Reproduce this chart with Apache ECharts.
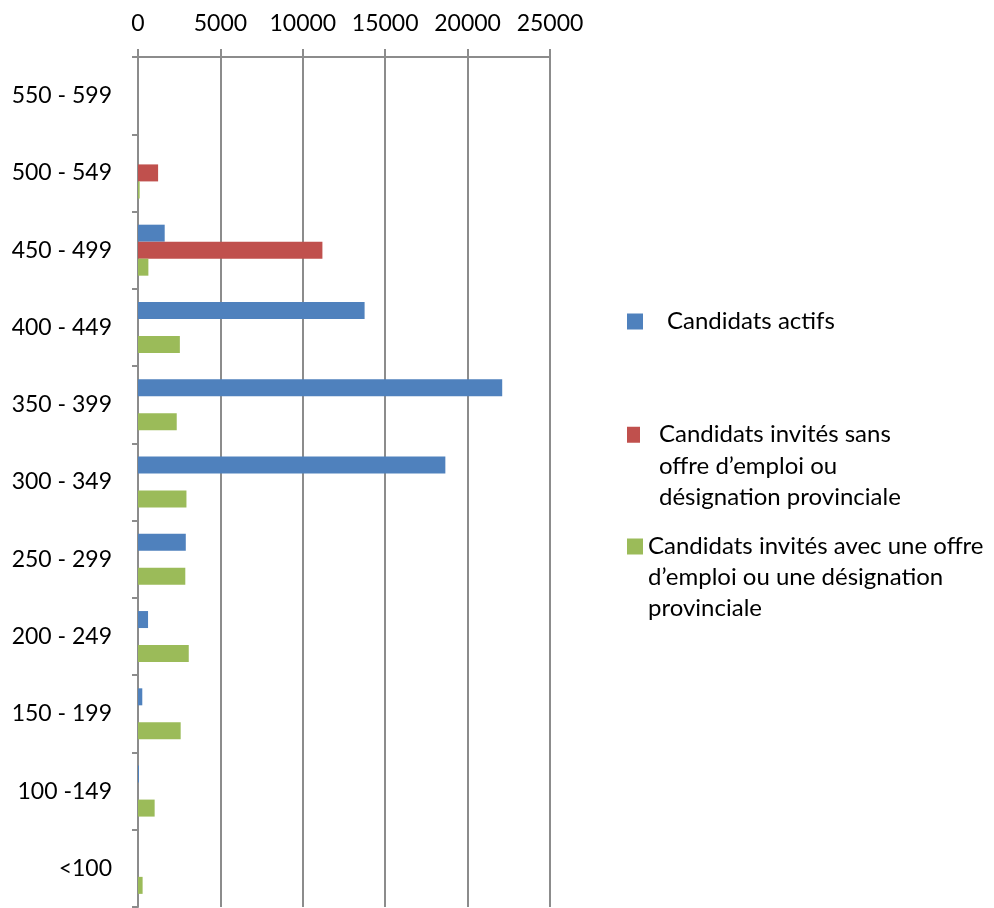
<!DOCTYPE html>
<html>
	<head>
		<meta charset="utf-8">
		<title>Candidats par tranche de score</title>
		<script src="https://cdn.jsdelivr.net/npm/echarts@6/dist/echarts.min.js" type="text/javascript"></script>
		<style type="text/css">
			html,body{margin: 0; padding: 0; background-color: #fff;}
			#main{width: 994px; height: 908px;}
		</style>
	</head>
	<body>
		<div id="main"></div>
		<script type="text/javascript">
			// tranches de score, du bas vers le haut
			var categories = ['<100', '100 -149', '150 - 199', '200 - 249', '250 - 299', '300 - 349', '350 - 399', '400 - 449', '450 - 499', '500 - 549', '550 - 599'];
			var actifs = [0, 60, 260, 610, 2900, 18650, 22100, 13750, 1620, 0, 0];
			var sansOffre = [0, 0, 0, 0, 0, 0, 0, 0, 11190, 1220, 0];
			var avecOffre = [280, 1010, 2590, 3080, 2870, 2940, 2350, 2540, 630, 100, 0];
			var xTicks = [0, 5000, 10000, 15000, 20000, 25000];

			var names = [
				'Candidats actifs',
				'Candidats invités sans\noffre d\u2019emploi ou\ndésignation provinciale',
				'Candidats invités avec une offre\nd\u2019emploi ou une désignation\nprovinciale'
			];
			var colors = ['#4f81bd', '#c0504d', '#9bbb59'];

			var myChart = echarts.init(document.getElementById('main'), null, {renderer: 'canvas'});

			var font = 'Lato, "Open Sans", sans-serif';

			// la légende centre le texte sur l'icône : deux lignes vides devant
			// pour que l'icône soit en face de la première ligne
			function topAligned(name) {
				return name.indexOf('\n') >= 0 ? '\n\n' + name : name;
			}

			var option = {
				animation: false,
				textStyle: {fontFamily: font},
				grid: {left: 138, right: 444, top: 57, bottom: 1, containLabel: false},
				legend: [
					{
						data: [names[0]], orient: 'vertical', left: 622, top: 301,
						icon: 'rect', itemWidth: 16, itemHeight: 16,
						formatter: topAligned,
						textStyle: {fontSize: 24, lineHeight: 31, color: '#000', fontFamily: font, padding: [0, 0, 0, 19]}
					},
					{
						data: [names[1]], orient: 'vertical', left: 622, top: 351,
						icon: 'rect', itemWidth: 13, itemHeight: 16,
						formatter: topAligned,
						textStyle: {fontSize: 24, lineHeight: 31.5, color: '#000', fontFamily: font, padding: [0, 0, 0, 14]}
					},
					{
						data: [names[2]], orient: 'vertical', left: 622, top: 464,
						icon: 'rect', itemWidth: 16, itemHeight: 16,
						formatter: topAligned,
						textStyle: {fontSize: 24, lineHeight: 31, color: '#000', fontFamily: font}
					}
				],
				xAxis: {
					type: 'value',
					position: 'top',
					min: 0,
					max: 25000,
					interval: 5000,
					axisLine: {show: true, lineStyle: {color: '#8c8c8c', width: 2}},
					axisTick: {show: true, length: 8, lineStyle: {color: '#8c8c8c', width: 2}},
					splitLine: {show: true, lineStyle: {color: '#8c8c8c', width: 2}},
					axisLabel: {
						fontSize: 23, color: '#000', fontFamily: font, margin: 22,
						formatter: function (v) { return xTicks.indexOf(v) >= 0 ? String(v) : ''; }
					}
				},
				yAxis: {
					type: 'category',
					data: categories,
					axisLine: {show: true, lineStyle: {color: '#8c8c8c', width: 2}},
					axisTick: {show: true, length: 6, lineStyle: {color: '#8c8c8c', width: 2}},
					axisLabel: {fontSize: 23, color: '#000', fontFamily: font, margin: 26}
				},
				series: [
					{name: names[0], type: 'bar', data: actifs, barWidth: 17, barGap: 0, barCategoryGap: '34%',
						itemStyle: {color: colors[0]}},
					{name: names[1], type: 'bar', data: sansOffre, barWidth: 17, barGap: 0,
						itemStyle: {color: colors[1]}},
					{name: names[2], type: 'bar', data: avecOffre, barWidth: 17, barGap: 0,
						itemStyle: {color: colors[2]}}
				]
			};

			myChart.setOption(option);
		</script>
	</body>
</html>
